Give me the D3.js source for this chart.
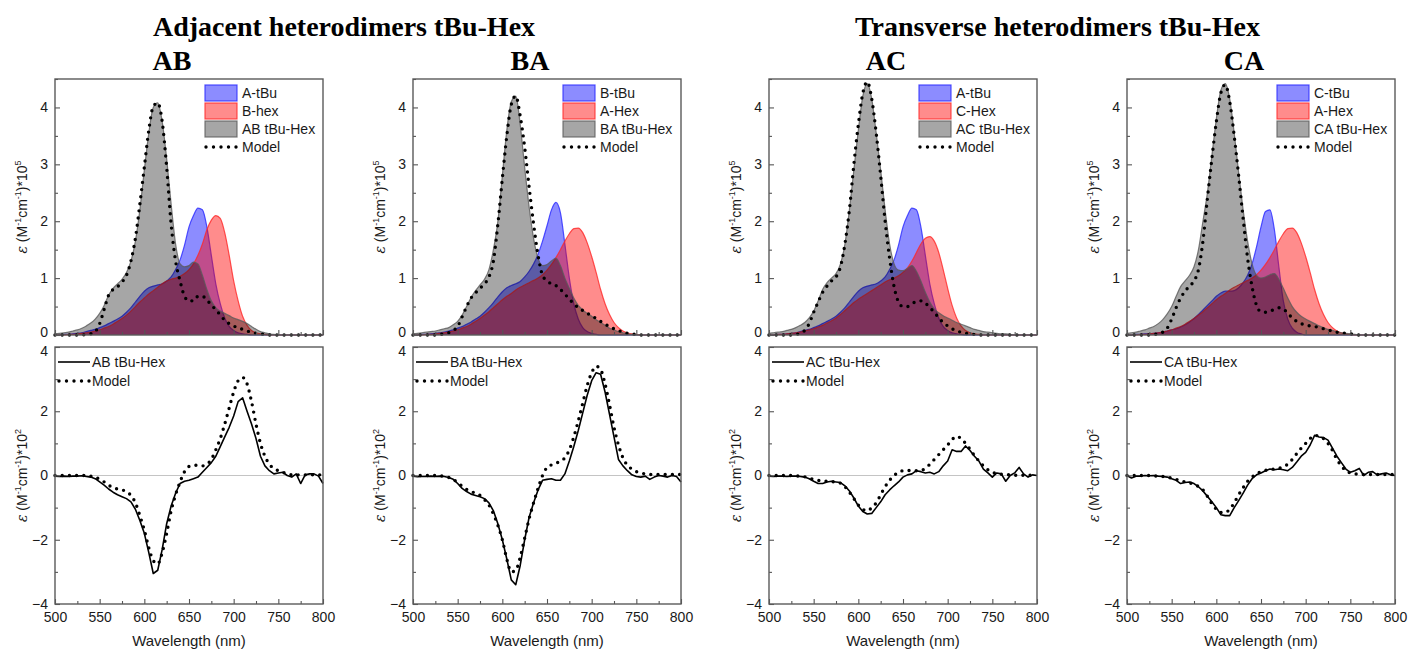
<html>
<head>
    <meta charset="utf-8">
    <title>Heterodimers tBu-Hex</title>
    <style>
        body { margin: 0; background: #fff; }
        text { font-family: "Liberation Sans", Arial, sans-serif; fill: #1a1a1a; }
        .head { font-family: "Liberation Serif", "Times New Roman", serif; font-weight: bold; fill: #000; }
    </style>
</head>
<body>
    <svg id="container" width="1409" height="649"></svg>
    <script src="https://d3js.org/d3.v7.min.js"></script>
    <script>
        // wavelength grid (nm)
        let wavelength = [500, 505, 510, 515, 520, 525, 530, 535, 540, 545,
            550, 555, 560, 565, 570, 575, 580, 585, 590, 595,
            600, 605, 610, 615, 620, 625, 630, 635, 640, 645,
            650, 655, 660, 665, 670, 675, 680, 685, 690, 695,
            700, 705, 710, 715, 720, 725, 730, 735, 740, 745,
            750, 755, 760, 765, 770, 775, 780, 785, 790, 795, 800]

        // monomer absorption, eps * 1e-5
        let aTbu = [0, 0, 0.01, 0.01, 0.02, 0.03, 0.04, 0.06, 0.08, 0.1,
            0.13, 0.16, 0.2, 0.24, 0.28, 0.33, 0.4, 0.48, 0.58, 0.68,
            0.77, 0.83, 0.86, 0.88, 0.9, 0.95, 1.02, 1.15, 1.32, 1.58,
            1.9, 2.1, 2.23, 2.2, 1.9, 1.4, 0.9, 0.55, 0.3, 0.15,
            0.08, 0.04, 0.02, 0.01, 0, 0, 0, 0, 0, 0,
            0, 0, 0, 0, 0, 0, 0, 0, 0, 0, 0]
        let bTbu = [0, 0, 0.01, 0.01, 0.02, 0.03, 0.04, 0.05, 0.07, 0.09,
            0.12, 0.15, 0.19, 0.23, 0.28, 0.33, 0.4, 0.48, 0.57, 0.67,
            0.76, 0.83, 0.87, 0.9, 0.94, 1.02, 1.12, 1.25, 1.42, 1.65,
            1.92, 2.2, 2.33, 2.15, 1.6, 1.0, 0.55, 0.28, 0.13, 0.06,
            0.03, 0.01, 0, 0, 0, 0, 0, 0, 0, 0,
            0, 0, 0, 0, 0, 0, 0, 0, 0, 0, 0]
        let cTbu = [0, 0, 0.01, 0.01, 0.02, 0.02, 0.03, 0.04, 0.05, 0.07,
            0.09, 0.11, 0.14, 0.18, 0.23, 0.29, 0.36, 0.44, 0.52, 0.6,
            0.68, 0.74, 0.77, 0.77, 0.78, 0.83, 0.92, 1.05, 1.25, 1.55,
            1.9, 2.17, 2.2, 1.85, 1.2, 0.6, 0.28, 0.12, 0.05, 0.02,
            0, 0, 0, 0, 0, 0, 0, 0, 0, 0,
            0, 0, 0, 0, 0, 0, 0, 0, 0, 0, 0]
        let aHex = [0, 0, 0, 0.01, 0.01, 0.02, 0.03, 0.04, 0.05, 0.07,
            0.09, 0.12, 0.15, 0.19, 0.24, 0.29, 0.35, 0.41, 0.48, 0.55,
            0.62, 0.68, 0.73, 0.79, 0.84, 0.88, 0.92, 0.96, 1.0, 1.06,
            1.14, 1.24, 1.36, 1.5, 1.65, 1.78, 1.87, 1.88, 1.8, 1.62,
            1.38, 1.1, 0.8, 0.55, 0.36, 0.22, 0.13, 0.07, 0.04, 0.02,
            0.01, 0, 0, 0, 0, 0, 0, 0, 0, 0, 0]
        let bHex = [0, 0, 0, 0.01, 0.01, 0.02, 0.03, 0.04, 0.05, 0.07,
            0.09, 0.12, 0.15, 0.19, 0.24, 0.29, 0.35, 0.42, 0.5, 0.58,
            0.65, 0.72, 0.78, 0.84, 0.9, 0.95, 0.98, 1.0, 1.03, 1.08,
            1.15, 1.25, 1.4, 1.6, 1.85, 2.02, 2.1, 2.05, 1.8, 1.4,
            0.95, 0.6, 0.33, 0.17, 0.08, 0.04, 0.02, 0.01, 0, 0,
            0, 0, 0, 0, 0, 0, 0, 0, 0, 0, 0]
        let cHex = [0, 0, 0.01, 0.01, 0.02, 0.03, 0.04, 0.05, 0.07, 0.09,
            0.11, 0.14, 0.17, 0.21, 0.25, 0.3, 0.36, 0.43, 0.5, 0.57,
            0.63, 0.68, 0.73, 0.78, 0.83, 0.88, 0.93, 0.97, 1.0, 1.04,
            1.1, 1.18, 1.3, 1.45, 1.6, 1.7, 1.73, 1.65, 1.45, 1.15,
            0.82, 0.52, 0.3, 0.16, 0.08, 0.04, 0.02, 0.01, 0, 0,
            0, 0, 0, 0, 0, 0, 0, 0, 0, 0, 0]

        // heterodimer absorption (measured, model)
        let abDimer = [0.02, 0.03, 0.04, 0.05, 0.07, 0.09, 0.12, 0.16, 0.21, 0.28,
            0.38, 0.52, 0.7, 0.82, 0.9, 0.98, 1.1, 1.3, 1.65, 2.2,
            2.9, 3.55, 4.0, 4.08, 3.75, 3.1, 2.3, 1.6, 1.25, 1.2,
            1.22, 1.28, 1.25, 1.05, 0.8, 0.6, 0.48, 0.42, 0.38, 0.34,
            0.3, 0.27, 0.24, 0.2, 0.15, 0.1, 0.06, 0.04, 0.02, 0.01,
            0, 0, 0, 0, 0, 0, 0, 0, 0, 0, 0]
        let abModel = [0, 0, 0, 0, 0, 0, 0, 0.01, 0.02, 0.06,
            0.2, 0.45, 0.7, 0.8, 0.85, 0.93, 1.05, 1.3, 1.7, 2.3,
            2.95, 3.6, 4.02, 4.08, 3.75, 2.95, 1.95, 1.3, 0.95, 0.68,
            0.6, 0.6, 0.68, 0.68, 0.62, 0.52, 0.45, 0.35, 0.26, 0.2,
            0.16, 0.12, 0.1, 0.07, 0.05, 0.03, 0.02, 0.01, 0, 0,
            0, 0, 0, 0, 0, 0, 0, 0, 0, 0, 0]
        let baDimer = [0.02, 0.03, 0.04, 0.05, 0.06, 0.07, 0.09, 0.11, 0.13, 0.18,
            0.24, 0.35, 0.5, 0.66, 0.78, 0.88, 0.98, 1.15, 1.5, 2.0,
            2.8, 3.6, 4.1, 4.2, 3.7, 2.95, 2.25, 1.7, 1.35, 1.22,
            1.24, 1.3, 1.35, 1.22, 1.0, 0.82, 0.65, 0.52, 0.44, 0.38,
            0.33, 0.27, 0.22, 0.17, 0.12, 0.09, 0.06, 0.04, 0.02, 0.01,
            0, 0, 0, 0, 0, 0, 0, 0, 0, 0, 0]
        let baModel = [0, 0, 0, 0, 0, 0, 0.01, 0.02, 0.04, 0.08,
            0.15, 0.32, 0.5, 0.65, 0.74, 0.82, 0.9, 1.02, 1.3, 1.95,
            2.75, 3.5, 4.05, 4.2, 3.85, 3.3, 2.6, 1.95, 1.4, 1.05,
            0.95, 0.9, 0.87, 0.8, 0.72, 0.63, 0.55, 0.48, 0.43, 0.38,
            0.34, 0.29, 0.24, 0.19, 0.15, 0.11, 0.08, 0.05, 0.03, 0.02,
            0.01, 0, 0, 0, 0, 0, 0, 0, 0, 0, 0]
        let acDimer = [0.03, 0.04, 0.05, 0.06, 0.08, 0.1, 0.13, 0.17, 0.22, 0.3,
            0.42, 0.6, 0.8, 0.92, 1.0, 1.08, 1.25, 1.6, 2.2, 2.9,
            3.6, 4.2, 4.42, 4.15, 3.55, 2.9, 2.2, 1.6, 1.25, 1.14,
            1.13, 1.17, 1.22, 1.12, 0.95, 0.75, 0.58, 0.46, 0.39, 0.34,
            0.3, 0.26, 0.22, 0.19, 0.16, 0.13, 0.1, 0.08, 0.06, 0.05,
            0.04, 0.03, 0.02, 0.02, 0.01, 0, 0, 0, 0, 0, 0]
        let acModel = [0, 0, 0, 0, 0, 0, 0.01, 0.03, 0.08, 0.2,
            0.4, 0.58, 0.75, 0.86, 0.95, 1.02, 1.2, 1.6, 2.2, 3.0,
            3.7, 4.25, 4.45, 4.15, 3.55, 2.8, 2.0, 1.35, 0.85, 0.58,
            0.5, 0.5, 0.55, 0.59, 0.6, 0.56, 0.48, 0.4, 0.3, 0.22,
            0.16, 0.11, 0.07, 0.05, 0.03, 0.02, 0.01, 0, 0, 0,
            0, 0, 0, 0, 0, 0, 0, 0, 0, 0, 0]
        let caDimer = [0.03, 0.04, 0.05, 0.07, 0.09, 0.12, 0.15, 0.2, 0.27, 0.37,
            0.5, 0.68, 0.85, 0.95, 1.05, 1.2, 1.5, 2.0, 2.5, 3.15,
            3.8, 4.3, 4.42, 4.15, 3.55, 2.85, 2.2, 1.65, 1.25, 1.05,
            1.0, 1.02, 1.06, 1.08, 0.98, 0.82, 0.65, 0.5, 0.4, 0.33,
            0.28, 0.24, 0.2, 0.16, 0.13, 0.1, 0.08, 0.06, 0.04, 0.03,
            0.02, 0.01, 0, 0, 0, 0, 0, 0, 0, 0, 0]
        let caModel = [0, 0, 0, 0, 0, 0, 0.01, 0.02, 0.05, 0.12,
            0.28, 0.48, 0.65, 0.77, 0.86, 0.95, 1.15, 1.65, 2.4, 3.1,
            3.75, 4.25, 4.4, 4.1, 3.5, 2.8, 2.05, 1.35, 0.85, 0.52,
            0.41, 0.4, 0.42, 0.45, 0.48, 0.46, 0.38, 0.3, 0.24, 0.2,
            0.18, 0.16, 0.15, 0.13, 0.11, 0.09, 0.07, 0.05, 0.04, 0.03,
            0.02, 0.01, 0, 0, 0, 0, 0, 0, 0, 0, 0]

        // circular dichroism, eps * 1e-2 (measured, model)
        let abCd = [-0.02, -0.03, -0.02, -0.03, -0.02, -0.02, -0.01, -0.03, -0.05, -0.1,
            -0.2, -0.3, -0.42, -0.52, -0.6, -0.66, -0.72, -0.82, -1.05, -1.4,
            -1.8, -2.4, -3.05, -2.95, -2.3, -1.5, -0.95, -0.55, -0.25, -0.18,
            -0.15, -0.1, -0.05, 0.1, 0.25, 0.4, 0.6, 0.9, 1.2, 1.5,
            1.85, 2.3, 2.42, 2.0, 1.6, 1.15, 0.6, 0.3, 0.15, 0.05,
            0.08, 0.1, 0.0, -0.05, 0.05, -0.25, 0.02, 0.05, 0.05, -0.02, -0.25]
        let abCdModel = [0, 0, 0, 0, 0, 0, 0, 0, -0.02, -0.05,
            -0.12, -0.2, -0.3, -0.38, -0.42, -0.45, -0.5, -0.62, -0.85, -1.25,
            -1.7, -2.25, -2.65, -2.75, -2.4, -1.8, -1.1, -0.6, -0.2, 0.12,
            0.28, 0.32, 0.32, 0.3, 0.35, 0.5, 0.8, 1.15, 1.6, 2.1,
            2.6, 2.95, 3.05, 2.85, 2.3, 1.6, 1.0, 0.6, 0.35, 0.22,
            0.15, 0.1, 0.05, 0.02, 0.02, 0.02, 0.02, 0.02, 0.02, 0.02, 0.02]
        let baCd = [-0.02, -0.04, -0.03, -0.03, -0.02, -0.03, -0.02, -0.03, -0.06, -0.12,
            -0.25, -0.4, -0.5, -0.58, -0.62, -0.66, -0.72, -0.85, -1.1, -1.5,
            -2.0, -2.6, -3.25, -3.4, -2.8, -2.0, -1.3, -0.85, -0.45, -0.15,
            -0.12, -0.1, -0.15, -0.15, 0.05, 0.45, 0.9, 1.4, 1.95, 2.5,
            2.95, 3.2, 3.15, 2.6, 1.9, 1.2, 0.5, 0.3, 0.15, 0.02,
            -0.03, -0.05, -0.02, -0.12, -0.05, 0.0, -0.02, -0.05, 0.0, -0.03, -0.2]
        let baCdModel = [0, 0, 0, 0, 0, 0, -0.01, -0.03, -0.06, -0.12,
            -0.22, -0.33, -0.43, -0.5, -0.55, -0.62, -0.75, -0.92, -1.2, -1.55,
            -2.0, -2.6, -3.0, -2.95, -2.55, -1.95, -1.35, -0.85, -0.4, 0.0,
            0.25, 0.33, 0.38, 0.45, 0.55, 0.8, 1.2, 1.7, 2.25, 2.8,
            3.2, 3.4, 3.3, 2.85, 2.2, 1.5, 0.95, 0.55, 0.32, 0.2,
            0.12, 0.08, 0.05, 0.03, 0.03, 0.03, 0.03, 0.03, 0.03, 0.03, 0.03]
        let acCd = [-0.02, -0.03, -0.02, -0.02, -0.03, -0.02, -0.02, -0.03, -0.05, -0.1,
            -0.18, -0.25, -0.25, -0.2, -0.18, -0.2, -0.22, -0.32, -0.48, -0.7,
            -0.95, -1.12, -1.2, -1.18, -1.0, -0.82, -0.6, -0.45, -0.32, -0.2,
            -0.05, 0.02, 0.05, 0.15, 0.12, 0.08, 0.1, 0.05, 0.12, 0.3,
            0.45, 0.8, 0.75, 0.75, 0.92, 0.78, 0.6, 0.45, 0.2, 0.08,
            -0.05, 0.08, 0.05, -0.18, 0.0, 0.08, 0.25, 0.05, -0.05, 0.02, 0.0]
        let acCdModel = [0, 0, 0, 0, 0, 0, -0.01, -0.02, -0.04, -0.08,
            -0.12, -0.15, -0.17, -0.18, -0.19, -0.2, -0.24, -0.35, -0.52, -0.72,
            -0.92, -1.05, -1.1, -1.0, -0.85, -0.6, -0.35, -0.15, 0.0, 0.1,
            0.15, 0.16, 0.15, 0.15, 0.16, 0.22, 0.35, 0.5, 0.65, 0.8,
            0.95, 1.12, 1.22, 1.15, 1.0, 0.82, 0.62, 0.45, 0.3, 0.18,
            0.1, 0.06, 0.04, 0.03, 0.02, 0.01, 0.01, 0.01, 0.01, 0.01, 0.01]
        let caCd = [0.0, -0.08, -0.02, -0.02, 0.0, -0.01, 0.0, -0.02, -0.03, -0.05,
            -0.1, -0.15, -0.25, -0.22, -0.2, -0.25, -0.35, -0.48, -0.65, -0.82,
            -1.0, -1.22, -1.25, -1.25, -1.0, -0.78, -0.55, -0.3, -0.1, 0.02,
            0.08, 0.15, 0.2, 0.18, 0.2, 0.18, 0.15, 0.25, 0.42, 0.6,
            0.72, 0.95, 1.25, 1.2, 1.18, 1.1, 0.85, 0.6, 0.4, 0.2,
            0.1, 0.15, 0.22, 0.0, 0.1, 0.12, 0.02, 0.05, 0.08, 0.02, 0.0]
        let caCdModel = [0, 0, 0, 0, 0, 0, -0.01, -0.02, -0.03, -0.05,
            -0.08, -0.12, -0.16, -0.2, -0.23, -0.28, -0.34, -0.45, -0.65, -0.88,
            -1.05, -1.15, -1.15, -1.05, -0.85, -0.6, -0.38, -0.18, -0.05, 0.05,
            0.12, 0.16, 0.19, 0.2, 0.22, 0.28, 0.35, 0.5, 0.68, 0.85,
            1.0, 1.15, 1.25, 1.22, 1.15, 1.0, 0.78, 0.5, 0.3, 0.15,
            0.08, 0.05, 0.04, 0.03, 0.03, 0.03, 0.03, 0.03, 0.03, 0.03, 0.03]

        let absTicks = [0, 1, 2, 3, 4]
        let cdTicks = [-4, -2, 0, 2, 4]
        let wlTicks = [500, 550, 600, 650, 700, 750, 800]

        let panels = [
            {label: "AB", left: 55, blue: aTbu, red: bHex, gray: abDimer, model: abModel, cd: abCd, cdModel: abCdModel, names: ["A-tBu", "B-hex", "AB tBu-Hex"]},
            {label: "BA", left: 413, blue: bTbu, red: aHex, gray: baDimer, model: baModel, cd: baCd, cdModel: baCdModel, names: ["B-tBu", "A-Hex", "BA tBu-Hex"]},
            {label: "AC", left: 769, blue: aTbu, red: cHex, gray: acDimer, model: acModel, cd: acCd, cdModel: acCdModel, names: ["A-tBu", "C-Hex", "AC tBu-Hex"]},
            {label: "CA", left: 1127, blue: cTbu, red: aHex, gray: caDimer, model: caModel, cd: caCd, cdModel: caCdModel, names: ["C-tBu", "A-Hex", "CA tBu-Hex"]}
        ]

        let container = d3.select("#container")
        let plotW = 268
        let topY = [79, 335]
        let botY = [347, 604]

        let fills = ["rgba(0,0,255,0.45)", "rgba(255,0,0,0.45)", "rgba(0,0,0,0.35)"]
        let strokes = ["rgba(40,40,255,0.8)", "rgba(255,40,40,0.8)", "rgba(90,90,90,0.8)"]

        container.append("text").attr("class", "head").attr("x", 153).attr("y", 36)
            .attr("font-size", 28).text("Adjacent heterodimers tBu-Hex")
        container.append("text").attr("class", "head").attr("x", 855).attr("y", 36)
            .attr("font-size", 28).text("Transverse heterodimers tBu-Hex")

        panels.forEach(drawPanel)

        function drawPanel(p) {
            let g = container.append("g")
            let x = d3.scaleLinear().domain([500, 800]).range([p.left, p.left + plotW])
            let yTop = d3.scaleLinear().domain([0, 4.5]).range([topY[1], topY[0]])
            let yBot = d3.scaleLinear().domain([-4, 4]).range([botY[1], botY[0]])

            g.append("text").attr("class", "head")
                .attr("x", p.left + plotW / 2 - 17).attr("y", 70)
                .attr("text-anchor", "middle").attr("font-size", 28).text(p.label)

            // absorption areas
            let area = d3.area()
                .x((d, i) => x(wavelength[i]))
                .y0(yTop(0)).y1(d => yTop(d))
                .curve(d3.curveMonotoneX)
            let line = d3.line()
                .x((d, i) => x(wavelength[i]))
                .y(d => yTop(d))
                .curve(d3.curveMonotoneX)
            let series = [p.blue, p.red, p.gray]
            series.forEach((s, k) => {
                g.append("path").attr("d", area(s)).attr("fill", fills[k])
                g.append("path").attr("d", line(s)).attr("fill", "none")
                    .attr("stroke", strokes[k]).attr("stroke-width", 1.2)
            })
            g.append("path").attr("d", line(p.model)).attr("fill", "none")
                .attr("stroke", "#000").attr("stroke-width", 3.4)
                .attr("stroke-linecap", "round").attr("stroke-dasharray", "0 7.2")

            // CD
            g.append("line").attr("x1", x(500)).attr("x2", x(800))
                .attr("y1", yBot(0)).attr("y2", yBot(0))
                .attr("stroke", "#c4c4c4").attr("stroke-width", 1.2)
            let cdLine = d3.line()
                .x((d, i) => x(wavelength[i]))
                .y(d => yBot(d))
            g.append("path").attr("d", cdLine(p.cd)).attr("fill", "none")
                .attr("stroke", "#000").attr("stroke-width", 1.6).attr("stroke-linejoin", "round")
            g.append("path").attr("d", cdLine.curve(d3.curveMonotoneX)(p.cdModel)).attr("fill", "none")
                .attr("stroke", "#000").attr("stroke-width", 3.4)
                .attr("stroke-linecap", "round").attr("stroke-dasharray", "0 7.2")

            // frames and axes
            let ta = drawFrame(g, x, yTop, topY, absTicks, [0.5, 1.5, 2.5, 3.5, 4.5], false)
            let tb = drawFrame(g, x, yBot, botY, cdTicks, [-3, -1, 1, 3], true)
            // keep the two stacked end labels ("0" above, "4" below) apart
            ta.selectAll(".tick").filter(d => d === 0).select("text").attr("y", -3)
            tb.selectAll(".tick").filter(d => d === 4).select("text").attr("y", 4)

            g.append("text")
                .attr("transform", `translate(${p.left - 28},${(topY[0] + topY[1]) / 2}) rotate(-90)`)
                .call(yTitle, "5")
            g.append("text")
                .attr("transform", `translate(${p.left - 28},${(botY[0] + botY[1]) / 2}) rotate(-90)`)
                .call(yTitle, "2")
            g.append("text").attr("x", p.left + plotW / 2).attr("y", 646)
                .attr("text-anchor", "middle").attr("font-size", 15).text("Wavelength (nm)")

            // legends
            let rows = [93, 111, 129, 147]
            p.names.forEach((n, k) => {
                g.append("rect").attr("x", p.left + 150).attr("y", rows[k] - 8)
                    .attr("width", 32).attr("height", 16)
                    .attr("fill", fills[k]).attr("stroke", strokes[k]).attr("stroke-width", 1.2)
                g.append("text").attr("x", p.left + 187).attr("y", rows[k] + 5)
                    .attr("font-size", 14).text(n)
            })
            g.append("line").attr("x1", p.left + 151).attr("x2", p.left + 182)
                .attr("y1", rows[3]).attr("y2", rows[3])
                .attr("stroke", "#000").attr("stroke-width", 3.4)
                .attr("stroke-linecap", "round").attr("stroke-dasharray", "0 7.5")
            g.append("text").attr("x", p.left + 187).attr("y", rows[3] + 5)
                .attr("font-size", 14).text("Model")

            g.append("line").attr("x1", p.left + 3).attr("x2", p.left + 35)
                .attr("y1", 362).attr("y2", 362).attr("stroke", "#000").attr("stroke-width", 1.6)
            g.append("text").attr("x", p.left + 37).attr("y", 367)
                .attr("font-size", 14).text(p.label + " tBu-Hex")
            g.append("line").attr("x1", p.left + 4).attr("x2", p.left + 35)
                .attr("y1", 381).attr("y2", 381)
                .attr("stroke", "#000").attr("stroke-width", 3.4)
                .attr("stroke-linecap", "round").attr("stroke-dasharray", "0 7.5")
            g.append("text").attr("x", p.left + 37).attr("y", 386)
                .attr("font-size", 14).text("Model")
        }

        function drawFrame(g, x, y, ys, majors, minors, labelX) {
            let yAxis = d3.axisLeft(y).tickValues(majors).tickSize(-5).tickPadding(7)
                .tickFormat(d3.format("d"))
            let yMinor = d3.axisLeft(y).tickValues(minors).tickSize(-3).tickFormat("")
            let xAxis = d3.axisBottom(x).tickValues(wlTicks).tickSize(-5).tickPadding(8)
            let xMinor = d3.axisBottom(x).tickValues([525, 575, 625, 675, 725, 775]).tickSize(-3).tickFormat("")
            if (!labelX) xAxis.tickFormat("")

            let l = x.range()[0]
            let ga = g.append("g").attr("transform", `translate(${l},0)`).call(yAxis)
            let gm = g.append("g").attr("transform", `translate(${l},0)`).call(yMinor)
            let gx = g.append("g").attr("transform", `translate(0,${ys[1]})`).call(xAxis)
            let gxm = g.append("g").attr("transform", `translate(0,${ys[1]})`).call(xMinor)
            ;[ga, gm, gx, gxm].forEach(a => {
                a.select(".domain").remove()
                a.selectAll("line").attr("stroke", "#555").attr("stroke-width", 1.1)
                a.selectAll("text").attr("font-size", 14).attr("fill", "#1a1a1a")
                    .attr("font-family", "Liberation Sans, Arial, sans-serif")
            })
            g.append("rect").attr("x", l).attr("y", ys[0])
                .attr("width", plotW).attr("height", ys[1] - ys[0])
                .attr("fill", "none").attr("stroke", "#5a5a5a").attr("stroke-width", 1.4)
            return ga
        }

        function yTitle(t, power) {
            t.attr("text-anchor", "middle").attr("font-size", 14)
            t.append("tspan").attr("font-style", "italic")
                .attr("font-family", "DejaVu Serif, serif").text("\u03b5")
            t.append("tspan").text(" (M")
            t.append("tspan").attr("font-size", 9).attr("dy", -6).text("-1")
            t.append("tspan").attr("dy", 6).text("cm")
            t.append("tspan").attr("font-size", 9).attr("dy", -6).text("-1")
            t.append("tspan").attr("dy", 6).text(")*10")
            t.append("tspan").attr("font-size", 9).attr("dy", -6).text(power)
        }
    </script>
</body>
</html>
